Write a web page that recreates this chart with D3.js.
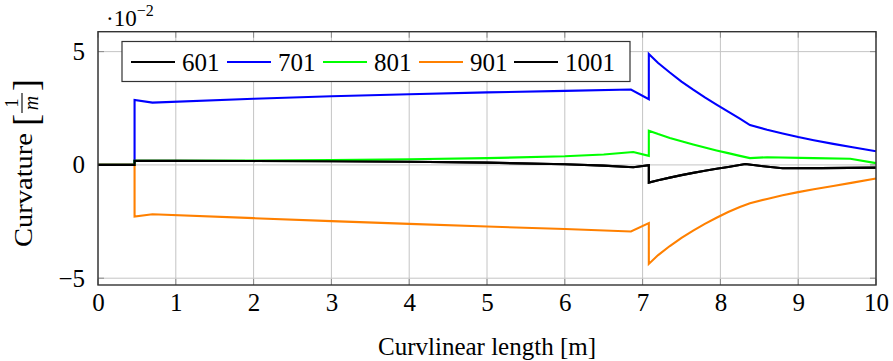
<!DOCTYPE html>
<html>
<head>
<meta charset="utf-8">
<script src="https://cdn.jsdelivr.net/npm/d3@7"></script>
<style>
  html, body { margin: 0; padding: 0; background: #fff; }
  svg { display: block; }
</style>
</head>
<body>
<svg id="chart" width="893" height="361"></svg>
<script>
// Curvature profiles along the path, in units of 1e-2 1/m.
// Each point is [curvilinear length (m), curvature (x1e-2 1/m)].
const series601 = [[0,0],[0.47,0],[0.47,0.18],[1,0.18],[2,0.17],[3,0.16],[4,0.14],[5,0.1],[6,0.03],[6.5,-0.03],[6.88,-0.1],[7.08,-0.01],[7.08,-0.78],[7.2,-0.68],[7.35,-0.56],[7.5,-0.45],[7.65,-0.35],[7.8,-0.26],[7.95,-0.17],[8.1,-0.09],[8.32,0.04],[8.55,-0.06],[8.8,-0.15],[9.3,-0.14],[10,-0.12]];
const series701 = [[0,0],[0.47,0],[0.47,2.87],[0.7,2.75],[2,2.92],[3,3.03],[4,3.12],[5,3.2],[6,3.27],[6.85,3.33],[7.08,2.9],[7.08,4.9],[7.2,4.5],[7.35,4.08],[7.5,3.68],[7.65,3.32],[7.8,2.98],[7.95,2.66],[8.1,2.35],[8.25,2.04],[8.38,1.76],[8.6,1.55],[8.8,1.39],[9.0,1.23],[9.2,1.09],[9.45,0.93],[9.7,0.78],[10,0.6]];
const series801 = [[0,0],[0.47,0],[0.47,0.18],[1,0.18],[2,0.19],[3,0.21],[4,0.25],[5,0.3],[6,0.38],[6.5,0.46],[6.88,0.57],[7.08,0.4],[7.08,1.51],[7.2,1.36],[7.35,1.19],[7.5,1.04],[7.65,0.9],[7.8,0.77],[7.95,0.64],[8.1,0.52],[8.25,0.4],[8.38,0.3],[8.6,0.34],[9.2,0.3],[9.67,0.27],[10,0.08]];
const series901 = [[0,0],[0.47,0],[0.47,-2.28],[0.7,-2.18],[2,-2.35],[3,-2.48],[4,-2.6],[5,-2.72],[6,-2.83],[6.85,-2.94],[7.08,-2.57],[7.08,-4.37],[7.2,-3.98],[7.35,-3.58],[7.5,-3.22],[7.65,-2.9],[7.8,-2.6],[7.95,-2.33],[8.1,-2.08],[8.25,-1.86],[8.38,-1.69],[8.6,-1.5],[8.8,-1.34],[9.0,-1.2],[9.2,-1.07],[9.45,-0.93],[9.7,-0.78],[10,-0.6]];
const series1001 = [[0,0],[0.47,0],[0.47,0.18],[1,0.18],[2,0.17],[3,0.16],[4,0.14],[5,0.1],[6,0.03],[6.5,-0.03],[6.88,-0.1],[7.08,-0.01],[7.08,-0.78],[7.2,-0.68],[7.35,-0.56],[7.5,-0.45],[7.65,-0.35],[7.8,-0.26],[7.95,-0.17],[8.1,-0.09],[8.32,0.04],[8.55,-0.06],[8.8,-0.15],[9.3,-0.14],[10,-0.12]];

const seriesNames = ["601", "701", "801", "901", "1001"];
const seriesData = [series601, series701, series801, series901, series1001];
const seriesColors = ["#000000", "#0000ff", "#00ff00", "#ff8000", "#000000"];

const xTicks = [0,1,2,3,4,5,6,7,8,9,10];
const yTicks = [-5, 0, 5];
const xDomain = [0, 10];
const yDomain = [-5.3, 5.88];

const FONT = "'Liberation Serif', 'Times New Roman', serif";

const svg = d3.select("#chart");
const plot = { left: 98, right: 876, top: 31.7, bottom: 285 };

const x = d3.scaleLinear().domain(xDomain).range([plot.left, plot.right]);
const y = d3.scaleLinear().domain(yDomain).range([plot.bottom, plot.top]);

function txt(sel) { return sel.style("font-family", FONT).attr("fill", "#000"); }

// grid
const grid = svg.append("g");
grid.selectAll("line.gx").data(xTicks).join("line")
  .attr("x1", d => x(d)).attr("x2", d => x(d))
  .attr("y1", plot.top).attr("y2", plot.bottom)
  .attr("stroke", "#c4c4c4").attr("stroke-width", 1);
grid.selectAll("line.gy").data(yTicks).join("line")
  .attr("y1", d => y(d)).attr("y2", d => y(d))
  .attr("x1", plot.left).attr("x2", plot.right)
  .attr("stroke", "#c4c4c4").attr("stroke-width", 1);

// inward tick marks on all four sides
const tickLen = 6;
const tk = svg.append("g").attr("stroke", "#8a8a8a").attr("stroke-width", 1);
xTicks.forEach(d => {
  tk.append("line").attr("x1", x(d)).attr("x2", x(d)).attr("y1", plot.bottom).attr("y2", plot.bottom - tickLen);
  tk.append("line").attr("x1", x(d)).attr("x2", x(d)).attr("y1", plot.top).attr("y2", plot.top + tickLen);
});
yTicks.forEach(d => {
  tk.append("line").attr("y1", y(d)).attr("y2", y(d)).attr("x1", plot.left).attr("x2", plot.left + tickLen);
  tk.append("line").attr("y1", y(d)).attr("y2", y(d)).attr("x1", plot.right).attr("x2", plot.right - tickLen);
});

// data lines
const line = d3.line().x(d => x(d[0])).y(d => y(d[1]));
svg.append("g").selectAll("path").data(seriesData).join("path")
  .attr("d", line)
  .attr("fill", "none")
  .attr("stroke", (d, i) => seriesColors[i])
  .attr("stroke-width", 2.1)
  .attr("stroke-linejoin", "miter");

// frame
svg.append("rect")
  .attr("x", plot.left).attr("y", plot.top)
  .attr("width", plot.right - plot.left).attr("height", plot.bottom - plot.top)
  .attr("fill", "none").attr("stroke", "#333").attr("stroke-width", 1.4);

// tick labels through d3 axes (axis lines hidden, labels only)
const xAxis = svg.append("g").attr("transform", `translate(0,${plot.bottom})`)
  .call(d3.axisBottom(x).tickValues(xTicks).tickSize(0).tickPadding(8).tickFormat(d3.format("d")));
xAxis.select(".domain").remove();
txt(xAxis.selectAll("text")).style("font-size", "25px");

const yAxis = svg.append("g").attr("transform", `translate(${plot.left},0)`)
  .call(d3.axisLeft(y).tickValues(yTicks).tickSize(0).tickPadding(13)
    .tickFormat(d => d < 0 ? "\u2212" + Math.abs(d) : String(d)));
yAxis.select(".domain").remove();
txt(yAxis.selectAll("text")).style("font-size", "25px");

// scale factor label
const sf = txt(svg.append("text")).attr("x", 106).attr("y", 26).style("font-size", "23px");
sf.append("tspan").text("\u00b710");
sf.append("tspan").style("font-size", "16px").attr("dy", -10).text("\u22122");

// x title
txt(svg.append("text"))
  .attr("x", (plot.left + plot.right) / 2).attr("y", 355)
  .attr("text-anchor", "middle").style("font-size", "25px")
  .text("Curvlinear length [m]");

// y title: "Curvature [1/m]" rotated, with a stacked fraction
const yt = svg.append("g").attr("transform", "translate(32,247) rotate(-90)");
txt(yt.append("text")).attr("x", 0).attr("y", 0).style("font-size", "26px")
  .attr("textLength", 114).attr("lengthAdjust", "spacingAndGlyphs").text("Curvature");
txt(yt.append("text")).attr("x", 121).attr("y", 6).style("font-size", "36px").text("[");
const fx = 144;
txt(yt.append("text")).attr("x", fx).attr("y", -14).attr("text-anchor", "middle").style("font-size", "19px").text("1");
yt.append("line").attr("x1", fx - 10).attr("x2", fx + 10).attr("y1", -10).attr("y2", -10)
  .attr("stroke", "#000").attr("stroke-width", 1.1);
txt(yt.append("text")).attr("x", fx).attr("y", 6).attr("text-anchor", "middle").style("font-size", "20px")
  .style("font-style", "italic").text("m");
txt(yt.append("text")).attr("x", fx + 12).attr("y", 6).style("font-size", "36px").text("]");

// legend
const legend = svg.append("g");
legend.append("rect").attr("x", 122).attr("y", 41.5).attr("width", 508).attr("height", 40)
  .attr("fill", "#fff").attr("stroke", "#333").attr("stroke-width", 1.2);
const legendStarts = [131, 227, 323, 419, 514];
seriesNames.forEach((name, i) => {
  const gx = legendStarts[i];
  legend.append("line").attr("x1", gx).attr("x2", gx + 44).attr("y1", 62).attr("y2", 62)
    .attr("stroke", seriesColors[i]).attr("stroke-width", 2);
  txt(legend.append("text")).attr("x", gx + 51).attr("y", 71).style("font-size", "25px").text(name);
});
</script>
</body>
</html>
